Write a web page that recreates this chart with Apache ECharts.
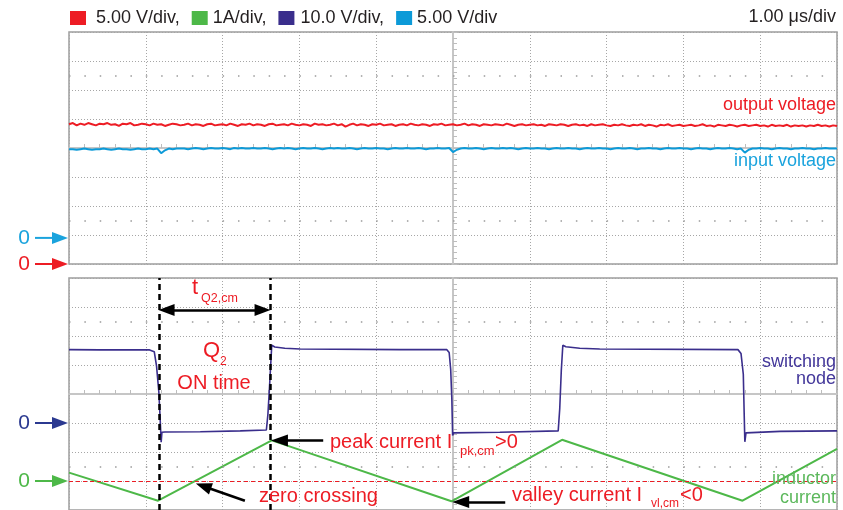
<!DOCTYPE html>
<html>
<head>
<meta charset="utf-8">
<script src="https://cdn.jsdelivr.net/npm/echarts@6/dist/echarts.min.js"></script>
<style>
html, body { margin: 0; padding: 0; background: #fff; }
#scope { width: 843px; height: 510px; }
</style>
</head>
<body>
<div id="scope"></div>
<script>
// sample clock of the two top traces (us), screen runs -5..5 us
var sampleStart = -5;
var sampleStep = 0.05;

// output voltage, V (5 V/div)
var outputVolts = [
  24.1, 24.3, 23.9, 24.2, 24.0, 24.3, 24.1, 23.9, 24.2, 24.1,
  24.3, 24.0, 24.1, 23.8, 24.2, 24.1, 24.3, 23.9, 24.0, 24.2,
  24.1, 23.9, 24.2, 24.0, 24.1, 23.8, 24.0, 24.2, 24.1, 23.9,
  24.0, 24.2, 23.9, 24.1, 24.0, 23.8, 24.1, 24.2, 23.9, 24.0,
  24.1, 23.9, 24.2, 24.0, 23.8, 24.1, 24.0, 24.2, 23.9, 24.1,
  24.0, 23.8, 24.1, 24.2, 23.9, 24.0, 24.1, 23.9, 24.2, 24.0,
  23.9, 24.1, 24.0, 23.8, 24.2, 24.0, 24.1, 23.9, 24.0, 24.2,
  23.9, 24.1, 23.7, 24.0, 24.2, 23.9, 24.1, 24.0, 23.8, 24.1,
  24.0, 24.2, 23.9, 24.0, 24.1, 23.8, 24.0, 24.1, 23.9, 24.2,
  24.0, 23.9, 24.1, 24.0, 23.8, 24.1, 24.0, 24.2, 23.9, 24.0,
  24.1, 23.9, 24.0, 24.2, 23.9, 24.1, 24.0, 23.8, 24.1, 24.0,
  23.9, 24.1, 24.0, 23.9, 24.2, 24.0, 23.8, 24.0, 24.1, 23.9,
  24.0, 24.1, 23.9, 24.0, 23.8, 24.1, 24.0, 23.9, 24.1, 24.0,
  23.8, 24.0, 24.1, 23.9, 24.0, 23.8, 24.1, 23.9, 24.0, 24.1,
  23.9, 23.8, 24.0, 23.9, 24.1, 23.9, 23.8, 24.0, 23.9, 24.1,
  23.8, 24.0, 23.9, 23.7, 24.0, 23.9, 24.1, 23.8, 23.9, 24.0,
  23.8, 23.9, 24.0, 23.8, 23.9, 24.1, 23.8, 23.9, 23.7, 24.0,
  23.9, 23.8, 24.0, 23.9, 23.7, 23.9, 24.0, 23.8, 23.9, 24.0,
  23.8, 23.9, 23.7, 24.0, 23.8, 23.9, 23.8, 24.0, 23.7, 23.9,
  23.8, 23.9, 23.7, 23.9, 23.8, 24.0, 23.8, 23.9, 23.7, 23.9, 23.8
];

// input voltage, V (5 V/div), small dips at the switching edges
var inputVolts = [
  15.3, 15.3, 15.2, 15.3, 15.4, 15.3, 15.2, 15.3, 15.3, 15.4,
  15.3, 15.2, 15.3, 15.4, 15.3, 15.3, 15.2, 15.3, 15.4, 15.3,
  15.3, 15.4, 15.3, 15.4, 14.6, 15.1, 15.4, 15.3, 15.4, 15.4,
  15.4, 15.3, 15.4, 15.5, 15.4, 15.3, 15.4, 15.5, 15.4, 15.4,
  15.5, 15.4, 15.3, 15.5, 15.4, 15.5, 15.4, 15.4, 15.5, 15.4,
  15.4, 15.5, 15.4, 15.3, 15.4, 15.5, 15.4, 15.5, 15.4, 15.3,
  15.4, 15.5, 15.4, 15.4, 15.5, 15.4, 15.3, 15.4, 15.5, 15.4,
  15.5, 15.4, 15.4, 15.5, 15.4, 15.3, 15.4, 15.5, 15.4, 15.4,
  15.5, 15.4, 15.4, 15.3, 15.4, 15.5, 15.4, 15.4, 15.5, 15.4,
  15.4, 15.5, 15.4, 15.3, 15.4, 15.4, 15.5, 15.4, 15.4, 15.5,
  14.8, 15.2, 15.4, 15.5, 15.4, 15.4, 15.5, 15.4, 15.3, 15.4,
  15.5, 15.4, 15.4, 15.5, 15.4, 15.5, 15.4, 15.3, 15.4, 15.5,
  15.4, 15.4, 15.5, 15.4, 15.4, 15.3, 15.4, 15.5, 15.4, 15.4,
  15.5, 15.4, 15.4, 15.3, 15.4, 15.5, 15.4, 15.4, 15.5, 15.4,
  15.4, 15.3, 15.4, 15.5, 15.4, 15.4, 15.5, 15.4, 15.3, 15.4,
  15.4, 15.5, 15.4, 15.4, 15.3, 15.4, 15.5, 15.4, 15.4, 15.5,
  15.4, 15.4, 15.3, 15.4, 15.5, 15.4, 15.4, 15.3, 15.4, 15.5,
  15.4, 15.4, 15.5, 15.4, 15.3, 15.4, 14.7, 15.2, 15.4, 15.4,
  15.5, 15.4, 15.4, 15.3, 15.4, 15.5, 15.4, 15.4, 15.3, 15.4,
  15.4, 15.5, 15.4, 15.4, 15.3, 15.4, 15.4, 15.5, 15.4, 15.4, 15.4
];

// switching node, V (10 V/div)
var switchTimes = [-5, -4.6, -3.95, -3.89, -3.86, -3.83, -3.815, -3.8, -3.79, -3.75,
  -3.29, -2.77, -2.43, -2.41, -2.39, -2.36, -2.32, -2.19, -1.99, -0.69,
  -0.08, -0.05, -0.03, -0.015, -0.005, 0.01, 0.61, 1.37, 1.39, 1.41,
  1.43, 1.47, 1.65, 1.91, 3.71, 3.75, 3.78, 3.79, 3.8, 3.815, 4.26, 5];
var switchVolts = [25.3, 25.2, 25.2, 24.6, 19.6, 10.6, 2.5, -6.6, -3.2, -3.1,
  -3.0, -2.7, -2.4, 3.0, 12.0, 26.8, 26.2, 25.8, 25.5, 25.3,
  25.3, 24.3, 18.5, 8.2, -4.3, -3.4, -3.2, -2.7, 5.0, 18.0,
  26.8, 26.3, 25.8, 25.5, 25.3, 24.0, 16.8, 4.8, -6.5, -3.4, -2.9, -2.7];

// inductor current, A (1 A/div)
var currentTimes = [-5, -3.84, -2.36, -0.02, 1.42, 3.77, 5];
var currentAmps = [0.29, -0.68, 1.40, -0.70, 1.42, -0.68, 1.11];

// channel setup: units per division and zero marker position (div)
var chOut = { scale: 5, zero: -4, color: '#ed1c24' };
var chIn = { scale: 5, zero: -3.1, color: '#0c9ad8' };
var chSw = { scale: 10, zero: -1, color: '#3a2e8c' };
var chIl = { scale: 1, zero: -3, color: '#4db848' };

var legendText = {
  'output voltage': '5.00 V/div,',
  'inductor current': '1A/div,',
  'switching node': '10.0 V/div,',
  'input voltage': '5.00 V/div'
};

// Q2 on-time edges (us) used for the annotation
var qOnStart = -3.83;
var qOnEnd = -2.38;

var FONT = '"Liberation Sans", Arial, sans-serif';
var RED = '#ed1c24';

function toDiv(ch, v) {
  return ch.zero + v / ch.scale;
}
function sampled(ch, arr) {
  return arr.map(function (v, i) {
    return [sampleStart + i * sampleStep, toDiv(ch, v)];
  });
}
function paired(ch, times, vals) {
  return times.map(function (t, i) {
    return [t, toDiv(ch, vals[i])];
  });
}

function timeAxis(gi) {
  return {
    gridIndex: gi, type: 'value', min: -5, max: 5, interval: 1,
    axisLabel: { show: false },
    axisLine: { onZero: true, lineStyle: { color: '#c6c6c6', width: 2 } },
    axisTick: { show: true, inside: true, length: 4, lineStyle: { color: '#bdbdbd' } },
    minorTick: { show: true, splitNumber: 5, length: 4, lineStyle: { color: '#bdbdbd' } },
    splitLine: { show: true, lineStyle: { color: '#a6a6a6', type: [1, 2], width: 1 } }
  };
}
function divAxis(gi) {
  return {
    gridIndex: gi, type: 'value', min: -4, max: 4, interval: 1,
    axisLabel: { show: false },
    axisLine: { onZero: true, lineStyle: { color: '#c6c6c6', width: 2 } },
    axisTick: { show: true, inside: true, length: 4, lineStyle: { color: '#bdbdbd' } },
    minorTick: { show: true, splitNumber: 5, length: 4, lineStyle: { color: '#bdbdbd' } },
    splitLine: { show: true, lineStyle: { color: '#a6a6a6', type: [1, 2], width: 1 } }
  };
}

// dotted rows of minor marks at +/-2.5 div
var dotRows = {
  silent: true, symbol: 'none', label: { show: false },
  lineStyle: { color: '#9a9a9a', type: [1.5, 13.86], width: 1.5 },
  data: [{ yAxis: 2.5 }, { yAxis: -2.5 }]
};

var headHalf = 0.1;
var arrowLine = { color: '#000', width: 2.5, type: 'solid' };
var peakDiv = toDiv(chIl, currentAmps[2]);
var valleyDiv = toDiv(chIl, currentAmps[3]) - 0.02;

var chart = echarts.init(document.getElementById('scope'));

chart.setOption({
  animation: false,
  backgroundColor: '#fff',
  title: {
    text: '1.00 μs/div', right: 7, top: 8, padding: 0,
    textStyle: { fontSize: 18, fontWeight: 'normal', color: '#231f20', lineHeight: 18, fontFamily: FONT }
  },
  legend: {
    left: 70, top: 9, padding: 0, icon: 'rect', itemWidth: 16, itemHeight: 14, itemGap: 12,
    selectedMode: false,
    textStyle: { fontSize: 18, lineHeight: 18, color: '#231f20', fontFamily: FONT },
    formatter: function (name) { return legendText[name]; },
    data: [
      { name: 'output voltage', textStyle: { padding: [0, 0, 0, 5] } },
      { name: 'inductor current' },
      { name: 'switching node', textStyle: { padding: [0, 0, 0, 1] } },
      { name: 'input voltage' }
    ]
  },
  grid: [
    { left: 69, top: 32, width: 768, height: 232, show: true, borderColor: '#9d9d9d', borderWidth: 1.5 },
    { left: 69, top: 278, width: 768, height: 233.6, show: true, borderColor: '#9d9d9d', borderWidth: 1.5 }
  ],
  xAxis: [timeAxis(0), timeAxis(1)],
  yAxis: [divAxis(0), divAxis(1)],
  series: [
    {
      name: 'output voltage', type: 'line', xAxisIndex: 0, yAxisIndex: 0,
      showSymbol: false, color: chOut.color,
      lineStyle: { color: chOut.color, width: 2 },
      data: sampled(chOut, outputVolts),
      markLine: dotRows
    },
    {
      name: 'input voltage', type: 'line', xAxisIndex: 0, yAxisIndex: 0,
      showSymbol: false, color: chIn.color,
      lineStyle: { color: chIn.color, width: 2 },
      data: sampled(chIn, inputVolts)
    },
    {
      name: 'switching node', type: 'line', xAxisIndex: 1, yAxisIndex: 1,
      showSymbol: false, color: chSw.color,
      lineStyle: { color: chSw.color, width: 1.6 },
      data: paired(chSw, switchTimes, switchVolts),
      markLine: dotRows
    },
    {
      name: 'inductor current', type: 'line', xAxisIndex: 1, yAxisIndex: 1,
      showSymbol: false, color: chIl.color, z: 3,
      lineStyle: { color: chIl.color, width: 2 },
      data: paired(chIl, currentTimes, currentAmps),
      markLine: {
        silent: true, symbol: 'none', label: { show: false }, z: 5,
        data: [
          { yAxis: chIl.zero, lineStyle: { color: RED, type: [4, 3], width: 1.2 } },
          { xAxis: qOnStart, lineStyle: { color: '#000', type: [6, 4], width: 2.5 } },
          { xAxis: qOnEnd, lineStyle: { color: '#000', type: [6, 4], width: 2.5 } },
          [
            { coord: [qOnStart + headHalf, 2.9], symbol: 'triangle', symbolSize: [12, 16], lineStyle: arrowLine },
            { coord: [qOnEnd - headHalf, 2.9], symbol: 'triangle', symbolSize: [12, 16] }
          ],
          [
            { coord: [-1.69, peakDiv], symbol: 'none', lineStyle: arrowLine },
            { coord: [currentTimes[2] + headHalf, peakDiv], symbol: 'triangle', symbolSize: [12, 17] }
          ],
          [
            { coord: [0.68, valleyDiv], symbol: 'none', lineStyle: arrowLine },
            { coord: [currentTimes[3] + 0.02 + headHalf, valleyDiv], symbol: 'triangle', symbolSize: [12, 17] }
          ],
          [
            { coord: [-2.71, -3.68], symbol: 'none', lineStyle: arrowLine },
            { coord: [-3.25, -3.18], symbol: 'triangle', symbolSize: [12, 16] }
          ]
        ]
      }
    }
  ]
});

function txt(str, x, y, size, color, align) {
  return {
    type: 'text', x: x, y: y, silent: true, z: 20,
    style: {
      text: str, fill: color, font: size + 'px ' + FONT,
      textAlign: align || 'left', align: align || 'left',
      textVerticalAlign: 'middle', verticalAlign: 'middle'
    }
  };
}

function zeroMarker(ch, axisIndex, color) {
  var y = chart.convertToPixel({ yAxisIndex: axisIndex }, ch.zero);
  return [
    txt('0', 24, y, 21, color, 'center'),
    { type: 'line', silent: true, shape: { x1: 35, y1: y, x2: 53, y2: y }, style: { stroke: color, lineWidth: 2 } },
    { type: 'polygon', silent: true, shape: { points: [[52, y - 6], [68, y], [52, y + 6]] }, style: { fill: color } }
  ];
}

var graphics = [].concat(
  zeroMarker(chIn, 0, '#1aa3dd'),
  zeroMarker(chOut, 0, RED),
  zeroMarker(chSw, 1, '#2b3990'),
  zeroMarker(chIl, 1, chIl.color),
  [
    txt('output voltage', 836, 105.5, 18, RED, 'right'),
    txt('input voltage', 836, 161, 18, '#1aa3dd', 'right'),
    txt('switching', 836, 362, 18, '#43379a', 'right'),
    txt('node', 836, 379, 18, '#43379a', 'right'),
    txt('inductor', 836, 479.5, 18, '#5cb85c', 'right'),
    txt('current', 836, 498.5, 18, '#5cb85c', 'right'),
    txt('t', 192, 287.5, 22, RED),
    txt('Q2,cm', 201, 298.5, 12.5, RED),
    txt('Q', 203, 350.5, 22, RED),
    txt('2', 220, 362, 12, RED),
    txt('ON time', 214, 383, 20, RED, 'center'),
    txt('peak current I', 330, 442, 20, RED),
    txt('pk,cm', 460, 451.5, 13, RED),
    txt('>0', 495, 442, 20, RED),
    txt('zero crossing', 259, 496, 20, RED),
    txt('valley current I', 512, 495, 20, RED),
    txt('vl,cm', 651, 504, 12, RED),
    txt('<0', 680, 495, 20, RED)
  ]
);

chart.setOption({ graphic: graphics });
</script>
</body>
</html>
